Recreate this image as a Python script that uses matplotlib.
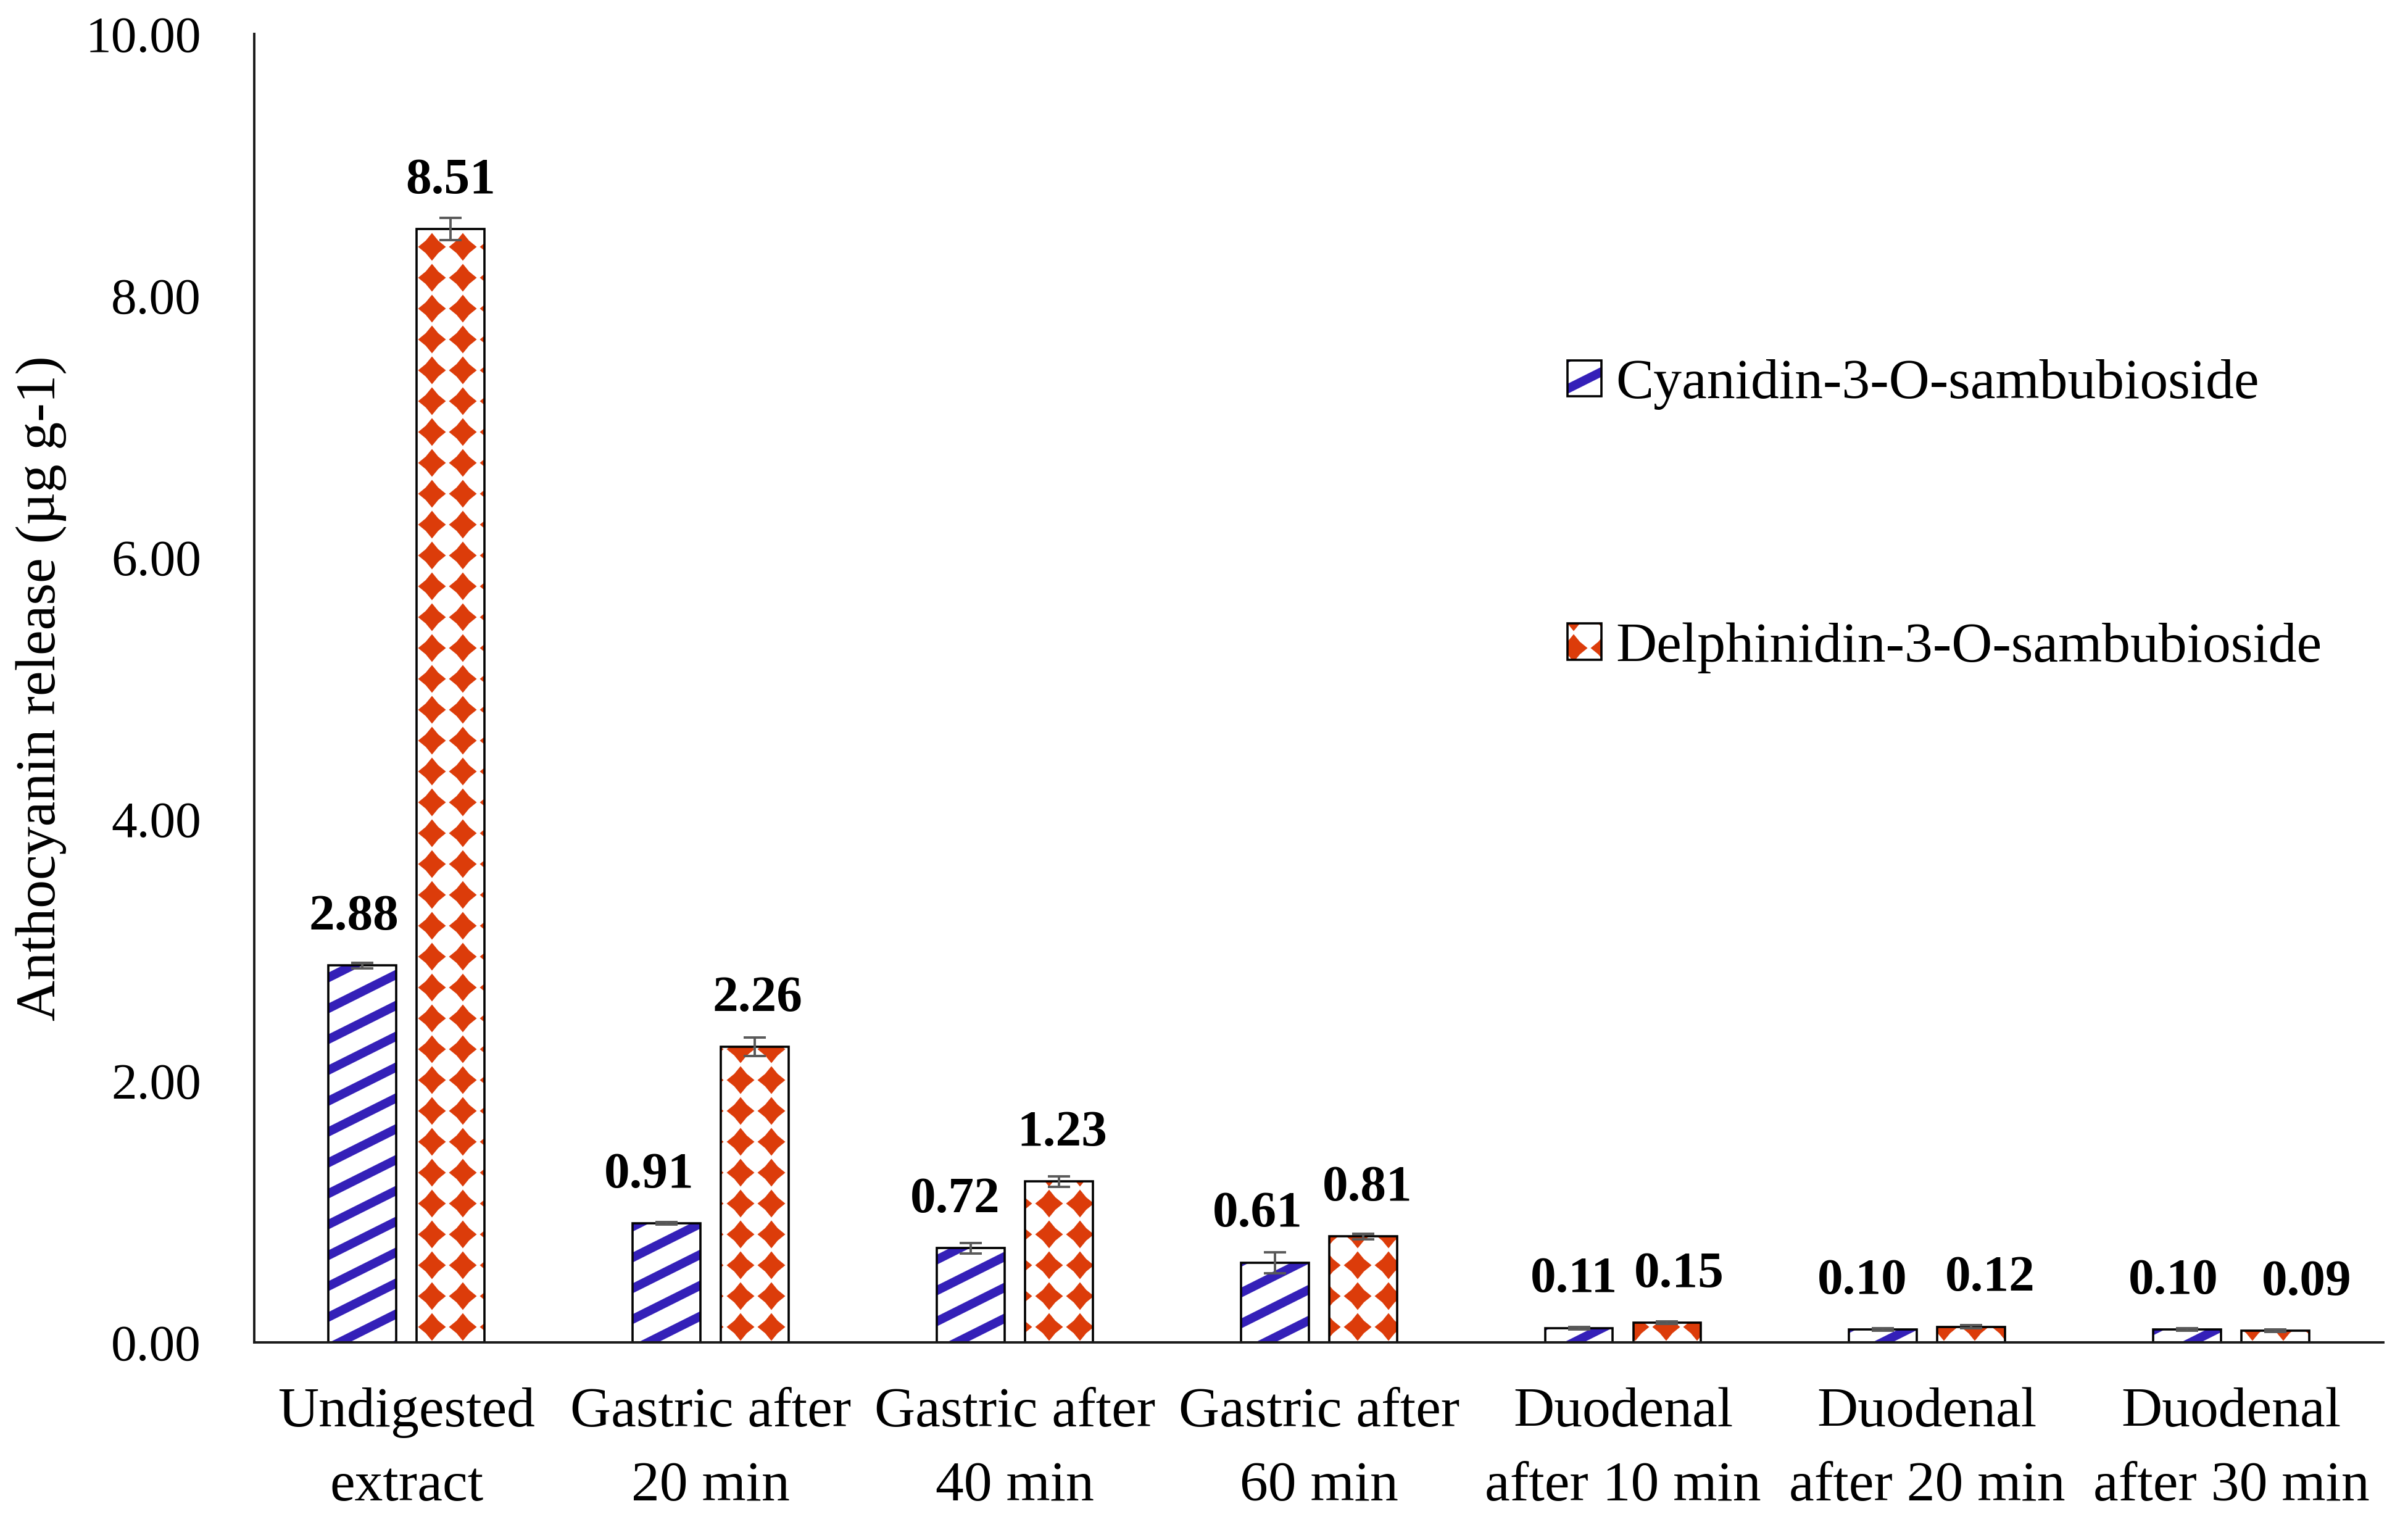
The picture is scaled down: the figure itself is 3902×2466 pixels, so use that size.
import numpy as np
import matplotlib
matplotlib.use('Agg')
import matplotlib.pyplot as plt
from matplotlib import hatch as mhatch
from matplotlib.path import Path
from matplotlib.ticker import FormatStrFormatter

categories = ['Undigested\nextract', 'Gastric after\n20 min', 'Gastric after\n40 min',
              'Gastric after\n60 min', 'Duodenal\nafter 10 min', 'Duodenal\nafter 20 min',
              'Duodenal\nafter 30 min']
series_names = ['Cyanidin-3-O-sambubioside', 'Delphinidin-3-O-sambubioside']
cyanidin = [2.88, 0.91, 0.72, 0.61, 0.11, 0.10, 0.10]
cyanidin_err = [0.02, 0.01, 0.04, 0.08, 0.01, 0.01, 0.01]
delphinidin = [8.51, 2.26, 1.23, 0.81, 0.15, 0.12, 0.09]
delphinidin_err = [0.085, 0.07, 0.04, 0.02, 0.01, 0.01, 0.01]
y_ticks = [0, 2, 4, 6, 8, 10]

# sideways nudge of the value labels (points), as Excel placed them
nudge_cyanidin = [-5, -10, -9, -10, -3, -12, -8]
nudge_delphinidin = [0, 1.5, 2, 2.5, 7, 11, 18]

BLUE = '#3420B8'
RED = '#DC3C0A'


# Excel-like fill patterns drawn as filled shapes in the hatch tile:
# shallow stripes for '/', a grid of concave diamonds for '*'
class StripeHatch(mhatch.HatchPatternBase):
    def __init__(self, hatch, density):
        self.offs = np.linspace(-0.5, 1.0, 7) if '/' in hatch else []
        self.num_vertices = 5 * len(self.offs)

    def set_vertices_and_codes(self, vertices, codes):
        t = 0.04
        polys = [np.array([[0, c - t], [1, c + 0.5 - t], [1, c + 0.5 + t], [0, c + t], [0, c - t]])
                 for c in self.offs]
        vertices[:] = np.concatenate(polys)
        codes[:] = np.tile([Path.MOVETO, Path.LINETO, Path.LINETO,
                            Path.LINETO, Path.CLOSEPOLY], len(self.offs))


class DiamondHatch(mhatch.HatchPatternBase):
    def __init__(self, hatch, density):
        self.centers = []
        if '*' in hatch:
            for i in range(5):
                for j in range(5):
                    self.centers.append((i * 0.25, j * 0.25))
        self.num_vertices = 9 * len(self.centers)

    def set_vertices_and_codes(self, vertices, codes):
        r = 0.112
        m = 0.45 * r
        shape = np.array([[0, -r], [m, -m], [r, 0], [m, m], [0, r],
                          [-m, m], [-r, 0], [-m, -m], [0, -r]])
        vertices[:] = np.concatenate([shape + c for c in self.centers])
        codes[:] = np.tile([Path.MOVETO] + [Path.LINETO] * 7 + [Path.CLOSEPOLY],
                           len(self.centers))


mhatch._hatch_types = [t for t in mhatch._hatch_types
                       if t not in (mhatch.NorthEastHatch, mhatch.Stars)]
mhatch._hatch_types += [StripeHatch, DiamondHatch]

plt.rcParams['font.family'] = ['Liberation Serif', 'DejaVu Serif']
plt.rcParams['hatch.linewidth'] = 0.05

fig = plt.figure(figsize=(19.51, 12.33), dpi=200)
ax = fig.add_axes([0.1056, 0.118, 0.8842, 0.8597])

x = np.arange(len(categories))
width = 0.223
shift = 0.145

handles = []
for vals, errs, nudges, dx, color, hatch in [
        (cyanidin, cyanidin_err, nudge_cyanidin, -shift, BLUE, '/'),
        (delphinidin, delphinidin_err, nudge_delphinidin, shift, RED, '*')]:
    hb = ax.bar(x + dx, vals, width, color='white', edgecolor=color, linewidth=0, hatch=hatch)
    ob = ax.bar(x + dx, vals, width, fill=False, edgecolor='black', linewidth=1.3)
    ax.errorbar(x + dx, vals, yerr=errs, fmt='none', ecolor='#595959',
                elinewidth=1.4, capsize=6.5, capthick=1.4)
    for xi, v, nx in zip(x + dx, vals, nudges):
        ax.annotate(f'{v:.2f}', (xi, v), xytext=(nx, 21), textcoords='offset points',
                    ha='center', va='baseline', fontsize=30, fontweight='bold')
    handles.append((hb[0], ob[0]))

ax.set_xlim(-0.5, len(categories) - 0.5)
ax.set_ylim(0, 10)
ax.set_yticks(y_ticks)
ax.yaxis.set_major_formatter(FormatStrFormatter('%.2f'))
ax.set_xticks(x)
ax.set_xticklabels(categories, linespacing=1.6)
ax.tick_params(axis='x', length=0, pad=26, labelsize=33)
ax.tick_params(axis='y', length=0, pad=31, labelsize=30)

for side in ['top', 'right']:
    ax.spines[side].set_visible(False)
for side in ['left', 'bottom']:
    ax.spines[side].set_linewidth(1.4)
    ax.spines[side].set_color('#1a1a1a')

ax.set_ylabel('Anthocyanin release (µg g-1)', fontsize=33)
ax.yaxis.set_label_coords(-0.088, 0.5)

ax.legend(handles, series_names, loc='upper left', bbox_to_anchor=(0.651, 0.764),
          bbox_transform=fig.transFigure, frameon=False, fontsize=33,
          borderpad=0, borderaxespad=0, labelspacing=3.75,
          handlelength=0.6, handleheight=0.6, handletextpad=0.25)

fig.savefig('out.png', dpi=200, facecolor='white')
